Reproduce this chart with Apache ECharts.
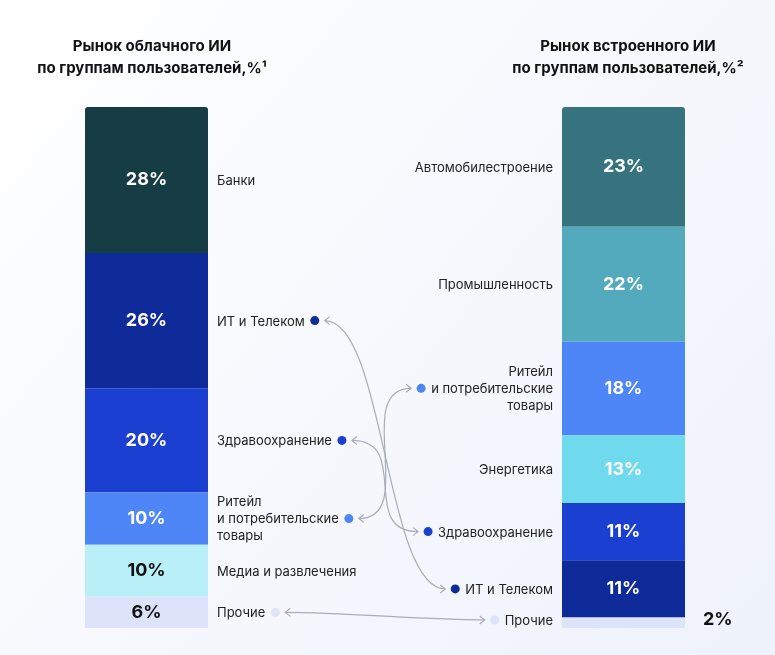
<!DOCTYPE html>
<html><head><meta charset="utf-8">
<script src="https://cdn.jsdelivr.net/npm/echarts@6/dist/echarts.min.js"></script>
<style>html,body{margin:0;padding:0;background:#fff}#main{width:775px;height:655px}</style>
</head><body><div id="main"></div>
<script>
// данные
var leftNames = ['Банки', 'ИТ и Телеком', 'Здравоохранение', 'Ритейл\nи потребительские\nтовары', 'Медиа и развлечения', 'Прочие'];
var leftValues = [28, 26, 20, 10, 10, 6];
var leftColors = ['#173d44', '#0f2a99', '#1b3fd0', '#4f86f7', '#b9f0f8', '#dde3f8'];
var rightNames = ['Автомобилестроение', 'Промышленность', 'Ритейл\nи потребительские\nтовары', 'Энергетика', 'Здравоохранение', 'ИТ и Телеком', 'Прочие'];
var rightValues = [23, 22, 18, 13, 11, 11, 2];
var rightColors = ['#36737f', '#53aabd', '#4f86f7', '#6fd9ee', '#1b3fd0', '#0f2a99', '#dde3f8'];
// связи: [индекс слева, индекс справа]
var links = [[1, 5], [2, 4], [3, 2], [5, 6]];

var FONT = 'Inter, "Noto Sans", sans-serif';
var myChart = echarts.init(document.getElementById('main'));

function makeSeries(values, colors, idx) {
    return values.map(function (v, i) {
        var dark = colors[i] === '#b9f0f8' || colors[i] === '#dde3f8';
        var lbl = {show: true, position: 'inside', formatter: v + '%', color: dark ? '#111' : '#fff',
            fontFamily: FONT, fontWeight: 'bold', fontSize: 18};
        if (idx === 1 && i === values.length - 1) {
            lbl = {show: true, position: 'right', distance: 18, formatter: v + '%', color: '#111',
                fontFamily: FONT, fontWeight: 'bold', fontSize: 18, offset: [0, -3]};
        }
        return {
            type: 'bar', stack: 's' + idx, xAxisIndex: idx, yAxisIndex: idx, barWidth: '100%',
            data: [v], itemStyle: {color: colors[i], borderRadius: i === 0 ? [3, 3, 0, 0] : 0},
            label: lbl, silent: true
        };
    });
}

var option = {
    backgroundColor: {type: 'linear', x: 0, y: 0, x2: 1, y2: 1, colorStops: [
        {offset: 0, color: '#ffffff'}, {offset: 0.6, color: '#f5f7fd'}, {offset: 1, color: '#eef2fb'}]},
    title: [
        {text: 'Рынок облачного ИИ\nпо группам пользователей,%¹', left: 147, top: 30, textAlign: 'center',
            textStyle: {fontFamily: FONT, fontSize: 15, fontWeight: 'bold', color: '#111', lineHeight: 22}},
        {text: 'Рынок встроенного ИИ\nпо группам пользователей,%²', left: 623, top: 30, textAlign: 'center',
            textStyle: {fontFamily: FONT, fontSize: 15, fontWeight: 'bold', color: '#111', lineHeight: 22}}
    ],
    grid: [
        {left: 85, width: 123, top: 107, bottom: 27},
        {left: 562, width: 123, top: 107, bottom: 27}
    ],
    xAxis: [0, 1].map(function (i) {
        return {type: 'category', gridIndex: i, data: [''], show: false};
    }),
    yAxis: [0, 1].map(function (i) {
        return {type: 'value', gridIndex: i, min: 0, max: 100, inverse: true, show: false};
    }),
    series: makeSeries(leftValues, leftColors, 0).concat(makeSeries(rightValues, rightColors, 1))
};
myChart.setOption(option);

// подписи категорий и связи
var ctx = document.createElement('canvas').getContext('2d');
ctx.font = '13px ' + FONT;
function mids(values, axis) {
    var acc = 0;
    return values.map(function (v) {
        var y = myChart.convertToPixel({yAxisIndex: axis}, acc + v / 2);
        acc += v;
        return y;
    });
}
var lm = mids(leftValues, 0), rm = mids(rightValues, 1);
var g = [];
var leftDot = [], rightDot = [];
var textStyle = {fontFamily: FONT, fontSize: 13, fill: '#222', lineHeight: 17};
leftNames.forEach(function (n, i) {
    var lines = n.split('\n');
    var y = lm[i];
    g.push({type: 'text', left: 217, top: y - lines.length * 17 / 2 + 1, style: Object.assign({text: n}, textStyle)});
    var mid = lines[Math.floor(lines.length / 2)];
    leftDot.push([217 + ctx.measureText(mid).width + 10, y]);
});
rightNames.forEach(function (n, i) {
    var lines = n.split('\n');
    var y = rm[i];
    if (i === rightNames.length - 1) y = 620;
    var w = Math.max.apply(null, lines.map(function (l) { return ctx.measureText(l).width; }));
    g.push({type: 'text', x: 553, y: y - lines.length * 17 / 2 + 1,
        style: Object.assign({text: n, align: 'right'}, textStyle)});
    var mid = lines[Math.floor(lines.length / 2)];
    rightDot.push([553 - ctx.measureText(mid).width - 10, y]);
});
function arrow(x, y, dir) {
    return {type: 'polyline', shape: {points: [[x - 5 * dir, y - 4], [x, y], [x - 5 * dir, y + 4]]},
        style: {stroke: '#a9adb8', lineWidth: 1.2, fill: null}};
}
links.forEach(function (l) {
    var a = leftDot[l[0]], b = rightDot[l[1]];
    var ci = leftColors[l[0]];
    var x1 = a[0] + 10, x2 = b[0] - 10;
    if (a[1] === b[1]) {
        g.push({type: 'line', shape: {x1: x1, y1: a[1], x2: x2, y2: b[1]}, style: {stroke: '#a9adb8', lineWidth: 1.2}});
    } else {
        g.push({type: 'bezierCurve', shape: {x1: x1, y1: a[1], cpx1: x1 + 60, cpy1: a[1], cpx2: x2 - 60, cpy2: b[1], x2: x2, y2: b[1]},
            style: {stroke: '#a9adb8', lineWidth: 1.2, fill: null}});
    }
    g.push(arrow(x1, a[1], -1), arrow(x2, b[1], 1));
    g.push({type: 'circle', shape: {cx: a[0], cy: a[1], r: 4.5}, style: {fill: ci}});
    g.push({type: 'circle', shape: {cx: b[0], cy: b[1], r: 4.5}, style: {fill: rightColors[l[1]]}});
});
myChart.setOption({graphic: g});
</script>
</body></html>
